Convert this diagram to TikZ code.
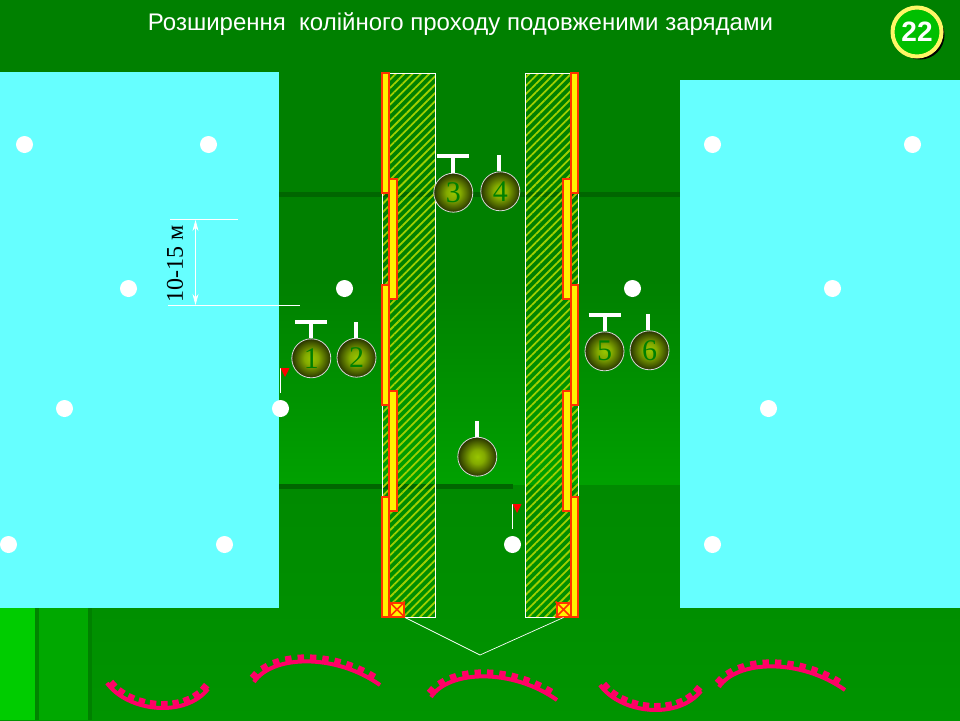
\documentclass[tikz,border=0pt]{standalone}
\usepackage{fontspec}
\setmainfont{Liberation Serif}
\newfontfamily\titlefont{Liberation Sans}
\usetikzlibrary{arrows.meta,patterns.meta,decorations.markings,shadows}
\definecolor{slab}{HTML}{66FFFF}
\definecolor{hatch}{HTML}{A0D000}
\definecolor{edge}{HTML}{FF3300}
\definecolor{mine}{HTML}{FF0066}
\definecolor{turf}{HTML}{008000}
\pgfdeclareradialshading{crewshade}{\pgfpoint{0bp}{0bp}}{color(0bp)=(hatch!95!black); color(9bp)=(hatch!82!black); color(25bp)=(black!75!hatch); color(50bp)=(black!75!hatch)}
\tikzset{
	dot/.style={circle,fill=white,inner sep=0,minimum size=17pt},
	crew/.style={circle,draw=white!85!black,line width=.8pt,inner sep=0,minimum size=39pt,
		shade,shading=crewshade,text=turf,font=\fontsize{30}{30}\selectfont},
	stick/.style={white,line width=4pt},
	thin line/.style={white,line width=.7pt},
	band/.style={fill=green!40!black},
	wall/.style={draw=white,line width=1pt,pattern={Lines[angle=45,distance=5.9pt,line width=1.8pt]},pattern color=hatch},
	charge/.style={draw=edge,line width=2pt,fill=yellow,inner sep=0,minimum width=#1,minimum height=120pt},
	plug/.style={draw=edge,line width=2pt,fill=yellow,inner sep=0,minimum size=14pt},
	mines/.style={mine,line width=4pt,postaction={decorate,decoration={markings,
		mark=between positions 5pt and 1 step 12pt with {\fill[mine] (-3.2pt,0pt) rectangle (3.2pt,7pt);}}}}
}
\begin{document}
\begin{tikzpicture}[x=1pt,y=-1pt]
	\useasboundingbox (0,0) rectangle (960,720);
	% ground
	\fill [turf] (0,0) rectangle (960,281);
	\shade [top color=turf, bottom color=green!63!black] (0,280) rectangle (960,485);
	\shade [top color=green!54!black, bottom color=green!58!black] (0,485) rectangle (960,720);
	\fill [green!80!black] (0,608) rectangle (35,720);
	\fill [green!52!black] (35,608) rectangle (39,720);
	\fill [green!66!black] (39,608) rectangle (88,720);
	\fill [green!50!black] (88,608) rectangle (92,720);
	\fill [band] (279,192) rectangle (680,197);
	\fill [band] (279,484) rectangle (513,489);
	\fill [slab] (0,72) rectangle (279,608);
	\fill [slab] (680,80) rectangle (960,608);
	% track walls and charges
	\node [wall,minimum width=53pt,minimum height=544pt,inner sep=0] (wallL) at (409,345.3) {};
	\node [wall,minimum width=53pt,minimum height=544pt,inner sep=0] (wallR) at (552,345.3) {};
	\node [charge=6.5pt] (a1) at (385.5,133) {};
	\node [charge=6.5pt] (a2) at (385.5,344.5) {};
	\node [charge=6.5pt] (a3) at (385.5,556.5) {};
	\node [charge=7.5pt] (b1) at (393,239) {};
	\node [charge=7.5pt] (b2) at (393,451) {};
	\node [charge=6.5pt] (c1) at (574.5,133) {};
	\node [charge=6.5pt] (c2) at (574.5,344.5) {};
	\node [charge=6.5pt] (c3) at (574.5,556.5) {};
	\node [charge=7.5pt] (d1) at (567,239) {};
	\node [charge=7.5pt] (d2) at (567,451) {};
	\node [plug] (plugL) at (397,609.5) {};
	\node [plug] (plugR) at (563.5,609.5) {};
	\draw [edge,line width=1.5pt] (plugL.north west) -- (plugL.south east) (plugL.north east) -- (plugL.south west);
	\draw [edge,line width=1.5pt] (plugR.north west) -- (plugR.south east) (plugR.north east) -- (plugR.south west);
	\coordinate (tip) at (480,655);
	\draw [thin line] (plugL.south east) -- (tip) -- (plugR.south);
	% dots
	\node [dot] (p1) at (24.5,144.5) {};
	\node [dot] (p2) at (208.5,144.5) {};
	\node [dot] (p3) at (128.5,288.5) {};
	\node [dot] (p4) at (64.5,408.5) {};
	\node [dot] (p5) at (280.5,408.5) {};
	\node [dot] (p6) at (8.5,544.5) {};
	\node [dot] (p7) at (224.5,544.5) {};
	\node [dot] (p8) at (344.5,288.5) {};
	\node [dot] (p9) at (512.5,544.5) {};
	\node [dot] (p10) at (632.5,288.5) {};
	\node [dot] (p11) at (712.5,144.5) {};
	\node [dot] (p12) at (912.5,144.5) {};
	\node [dot] (p13) at (832.5,288.5) {};
	\node [dot] (p14) at (768.5,408.5) {};
	\node [dot] (p15) at (712.5,544.5) {};
	% crews
	\node [crew] (1) at (311.3,358.3) {1};
	\node [crew] (2) at (356.5,357.7) {2};
	\node [crew] (3) at (453.3,192.7) {3};
	\node [crew] (4) at (500.3,191.3) {4};
	\node [crew] (7) at (477.3,456.7) {};
	\node [crew] (5) at (604.5,351.3) {5};
	\node [crew] (6) at (649.5,350.3) {6};
	\draw [stick] (1.north) -- ++(0,-16) ++(-16,0) -- ++(32,0);
	\draw [stick] (2.north) ++(-.5,0) -- ++(0,-16);
	\draw [stick] (3.north) -- ++(0,-17) ++(-16,0) -- ++(32,0);
	\draw [stick] (4.north) ++(-1.3,0) -- ++(0,-16);
	\draw [stick] (7.north) -- ++(0,-16);
	\draw [stick] (5.north) -- ++(0,-16) ++(-16,0) -- ++(32,0);
	\draw [stick] (6.north) ++(-1.5,0) -- ++(0,-16);
	% flags
	\coordinate (f1) at (280.5,368);
	\coordinate (f2) at (512.5,504);
	\draw [white,line width=1pt] (f1) -- ++(0,25);
	\draw [white,line width=1pt] (f2) -- ++(0,25);
	\fill [red] (f1) -- ++(9,0) -- ++(-4.5,9) -- cycle;
	\fill [red] (f2) -- ++(9,0) -- ++(-4.5,9) -- cycle;
	% distance
	\coordinate (m1) at (170,219.5);
	\coordinate (m2) at (238,219.5);
	\coordinate (m3) at (168,305.5);
	\coordinate (m4) at (300,305.5);
	\coordinate (m5) at (195.5,220);
	\coordinate (m6) at (195.5,305);
	\draw [thin line] (m1) -- (m2);
	\draw [thin line] (m3) -- (m4);
	\draw [thin line,{Stealth[length=11pt,width=6pt]}-{Stealth[length=11pt,width=6pt]}] (m5) -- (m6);
	\node [rotate=90,font=\fontsize{24}{24}\selectfont] (dist) at (175,263.5) {10-15 м};
	% mine rows
	\draw [mines] (107,683) .. controls (128,712) and (185,718) .. (208,689);
	\draw [mines] (254,682) .. controls (272,655) and (335,653) .. (380,685);
	\draw [mines,shift={(177,15)}] (254,682) .. controls (272,655) and (335,653) .. (380,685);
	\draw [mines,shift={(493,2)}] (107,683) .. controls (128,712) and (185,718) .. (208,689);
	\draw [mines,shift={(465,5)}] (254,682) .. controls (272,655) and (335,653) .. (380,685);
	% heading
	\node [text=white,font=\titlefont\fontsize{24}{28}\selectfont] (title) at (460.5,24) {Розширення\ \ колійного\ проходу подовженими зарядами};
	\node [circle,draw=yellow!60!white,line width=4pt,fill=green!75!black,text=white,inner sep=0,minimum size=49pt,
		drop shadow={opacity=1,fill=black,shadow xshift=3pt,shadow yshift=-3pt},
		font=\titlefont\bfseries\fontsize{28}{28}\selectfont] (badge) at (917,32) {22};
\end{tikzpicture}
\end{document}
